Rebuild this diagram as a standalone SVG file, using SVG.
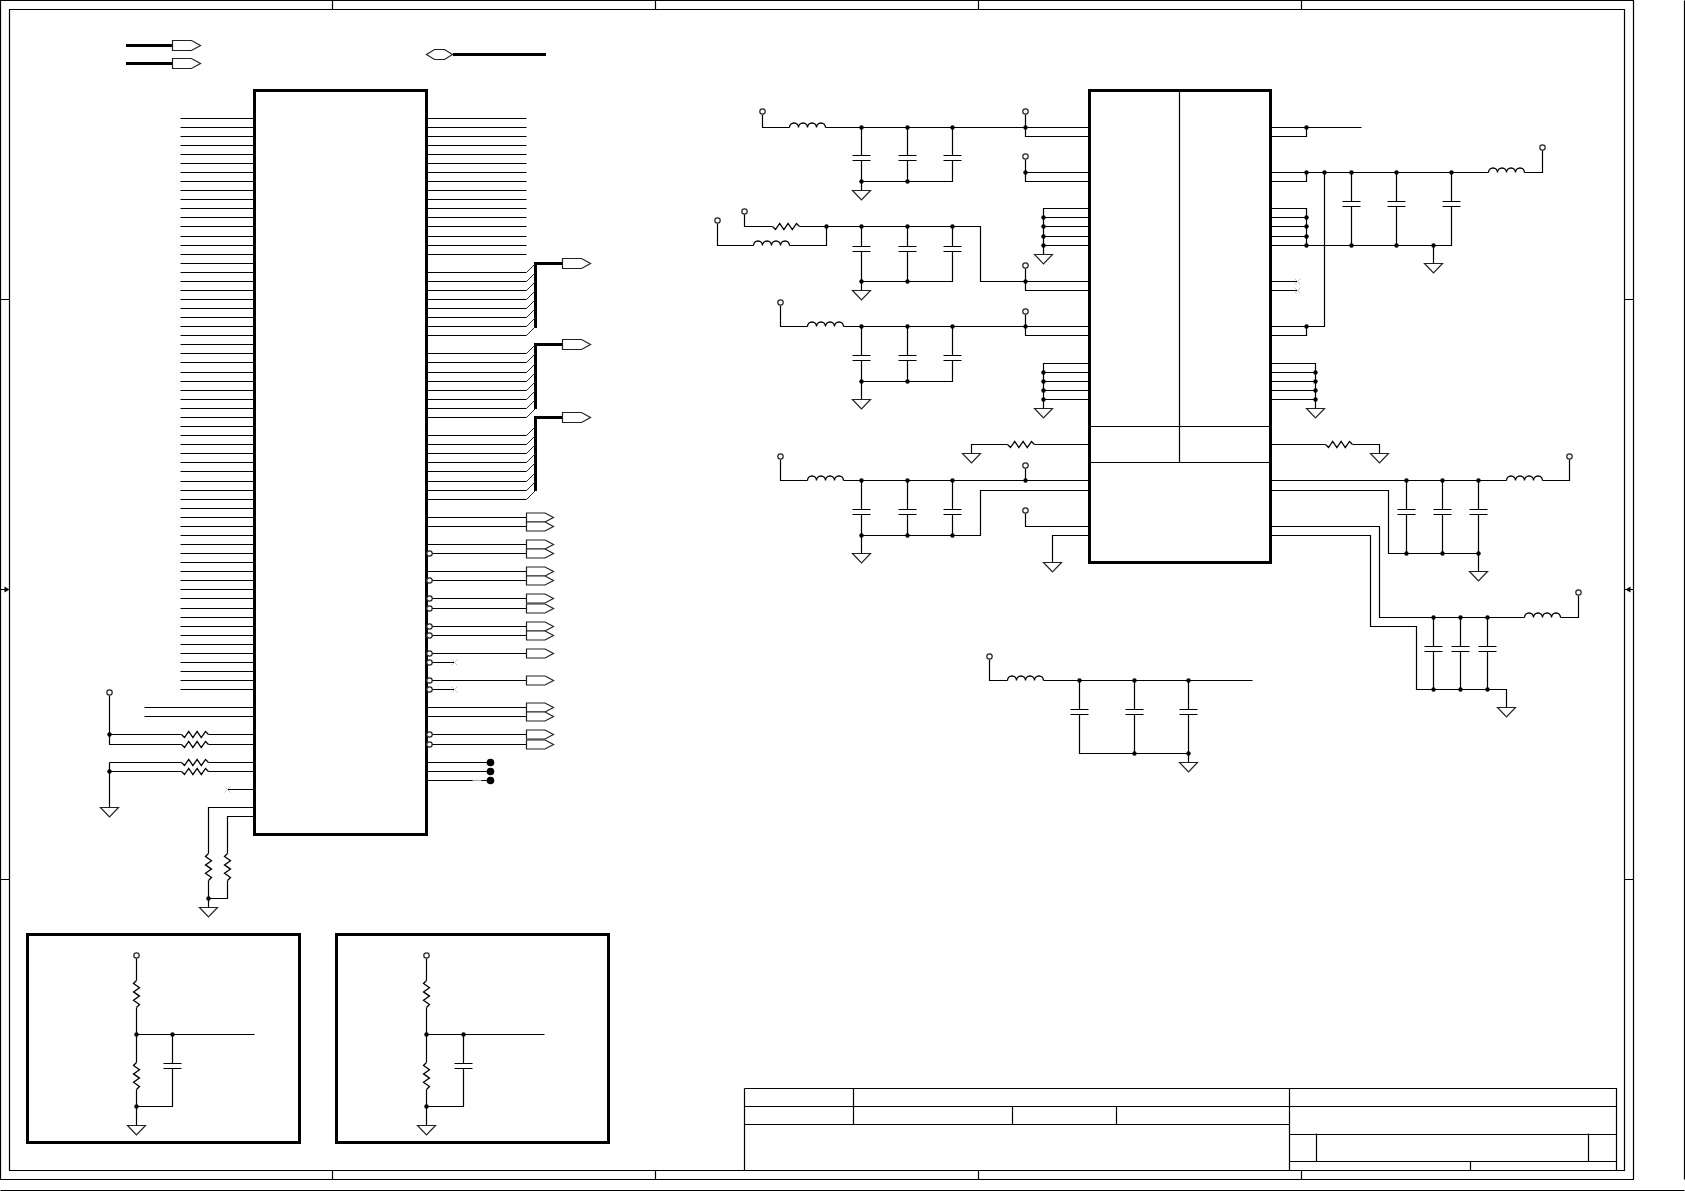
<svg xmlns="http://www.w3.org/2000/svg" width="1685" height="1191" viewBox="0 0 1685 1191">
<style>
.w{fill:none;stroke:#000;stroke-width:1.2}
.d{fill:none;stroke:#222;stroke-width:1}
.t{fill:none;stroke:#000;stroke-width:2.500;shape-rendering:crispEdges}
.b{fill:#fff;stroke:#000;stroke-width:3;shape-rendering:crispEdges}
.bo{fill:none;stroke:#000;stroke-width:3;shape-rendering:crispEdges}
.c{fill:none;stroke:#000;stroke-width:1.3}
.p{fill:#fff;stroke:#222;stroke-width:1.2}
.x{fill:none;stroke:#c8c8c8;stroke-width:1}
.dot{fill:#000}
.bd{fill:#000}
</style>
<defs>
<path id="ind" class="c" d="M0 0a4.500 4.500 0 0 1 9 0a4.500 4.500 0 0 1 9 0a4.500 4.500 0 0 1 9 0a4.500 4.500 0 0 1 9 0"/>
<path id="res" class="c" d="M0 0l3 3l4.200-6l4.200 6l4.200-6l4.200 6l4.200-6l3 3"/>
<path id="vres" class="c" d="M0 0l-3 3l6 4.200l-6 4.200l6 4.200l-6 4.200l6 4.200l-3 3"/>
<path id="cap" class="w" d="M-9 0H9M-9 5H9"/>
<polygon id="gnd" class="p" points="-9,0 9,0 0,9.500"/>
<circle id="term" class="p" r="2.700"/>
<circle id="dot" class="dot" r="2.200"/>
<circle id="bub" class="p" r="2.700"/>
<circle id="pad" class="bd" r="3.800"/>
<polygon id="port" class="p" points="0,-4.500 18.500,-4.500 27,0 18.500,4.500 0,4.500"/>
<polygon id="port5" class="p" points="0,-5 19,-5 28,0 19,5 0,5"/>
<polygon id="portl" class="p" points="0,0 8,-5 18,-5 26,0 18,5 8,5"/>
<path id="xm" class="x" d="M-3-3L3 3M-3 3L3-3"/>
</defs>
<rect width="1685" height="1191" fill="#fff"/>
<g transform="translate(.5 .5)">
<g id="frame">
<path class="w" d="M0 0H1633V1179H0ZM9 9H1624V1170H9Z"/>
<path class="w" d="M332 0V9M655 0V9M978 0V9M1301 0V9M332 1170V1179M655 1170V1179M978 1170V1179M1301 1170V1179M0 299H9M0 879H9M1624 299H1633M1624 879H1633M0 589H9M1624 589H1633M1684 0V1179M0 1190H1684"/>
<path class="bd" d="M4 586L9 589L4 592ZM1630 586L1625 589L1630 592Z"/>
</g>
<g id="connectors">
<path class="t" d="M125 45H172M125 63H172M452 54H545M562 263H535V327M562 344H535V408M562 417H535V490"/>
<path class="w" d="M180 118H254M180 127H254M180 136H254M180 145H254M180 154H254M180 163H254M180 172H254M180 181H254M180 190H254M180 199H254M180 208H254M180 217H254M180 226H254M180 236H254M180 245H254M180 254H254M180 263H254M180 272H254M180 281H254M180 290H254M180 299H254M180 308H254M180 317H254M180 326H254M180 335H254M180 344H254M180 353H254M180 362H254M180 372H254M180 381H254M180 390H254M180 399H254M180 408H254M180 417H254M180 426H254M180 435H254M180 444H254M180 453H254M180 462H254M180 471H254M180 481H254M180 490H254M180 499H254M180 508H254M180 517H254M180 526H254M180 535H254M180 544H254M180 553H254M180 562H254M180 571H254M180 580H254M180 589H254M180 598H254M180 608H254M180 617H254M180 626H254M180 635H254M180 644H254M180 653H254M180 662H254M180 671H254M180 680H254M180 689H254"/>
<path class="w" d="M144 707H254M144 716H254M109 695V744H181M208 744H254M109 734H181M208 734H254M109 762V807M109 762H181M208 762H254M109 771H181M208 771H254M227 789H254M254 807H208V853M208 880V907M254 816H227V853M227 880V898H208"/>
<path class="w" d="M426 118H526M426 127H526M426 136H526M426 145H526M426 154H526M426 163H526M426 172H526M426 181H526M426 190H526M426 199H526M426 208H526M426 217H526M426 226H526M426 236H526M426 245H526M426 254H526M426 272H526M426 281H526M426 290H526M426 299H526M426 308H526M426 317H526M426 326H526M426 335H526M426 353H526M426 362H526M426 372H526M426 381H526M426 390H526M426 399H526M426 408H526M426 417H526M426 435H526M426 444H526M426 453H526M426 462H526M426 471H526M426 481H526M426 490H526M426 499H526"/>
<path class="d" d="M526 272l9-9M526 281l9-9M526 290l9-9M526 299l9-9M526 308l9-9M526 317l9-9M526 326l9-9M526 335l9-9M526 353l9-9M526 362l9-9M526 372l9-9M526 381l9-9M526 390l9-9M526 399l9-9M526 408l9-9M526 417l9-9M526 435l9-9M526 444l9-9M526 453l9-9M526 462l9-9M526 471l9-9M526 481l9-9M526 490l9-9M526 499l9-9"/>
<path class="w" d="M426 517H526M426 526H526M426 544H526M426 553H526M426 571H526M426 580H526M426 598H526M426 608H526M426 626H526M426 635H526M426 653H526M426 662H454M426 680H526M426 689H454M426 707H526M426 716H526M426 734H526M426 744H526M426 762H490M426 771H490M426 780H490"/>
<path class="w" style="stroke:#aaa" d="M472 780H481"/>
<path class="w" d="M762 114V127H789M825 127H1089M1025 114V136H1089M861 127V155M861 160V181H952V160M952 155V127M907 127V155M907 160V181M861 181V190M1025 159V181H1089M1025 172H1089"/>
<path class="w" d="M1089 208H1043V254M1043 217H1089M1043 226H1089M1043 236H1089M1043 245H1089"/>
<path class="w" d="M717 223V245H753M789 245H826V226M744 214V226H772M799 226H980V281H1089M1025 268V290H1089M861 226V246M861 251V281H952V251M952 246V226M907 226V246M907 251V281M861 281V290"/>
<path class="w" d="M780 305V326H807M843 326H1089M1025 314V335H1089M861 326V355M861 360V381H952V360M952 355V326M907 326V355M907 360V381M861 381V399"/>
<path class="w" d="M1089 363H1043V408M1043 372H1089M1043 381H1089M1043 390H1089M1043 399H1089"/>
<path class="w" d="M1270 127H1361M1270 136H1306V127M1270 172H1488M1524 172H1542V150M1270 181H1306V172M1351 172V201M1351 206V245M1396 172V201M1396 206V245M1270 245H1451V206M1451 201V172M1433 245V263M1270 208H1306V245M1270 217H1306M1270 226H1306M1270 236H1306M1270 281H1297M1270 290H1297M1270 326H1324V172M1270 335H1306V326M1270 363H1315V408M1270 372H1315M1270 381H1315M1270 390H1315M1270 399H1315"/>
<path class="w" d="M1089 444H1034M1007 444H971V453M780 459V480H807M843 480H1089M1025 468V480M861 480V509M861 514V535H980V490H1089M907 480V509M907 514V535M952 480V509M952 514V535M861 535V553M1025 513V526H1089M1089 535H1052V562"/>
<path class="w" d="M1270 444H1325M1352 444H1379V453M1270 480H1506M1542 480H1569V459M1406 480V509M1406 514V553M1442 480V509M1442 514V553M1478 480V509M1478 514V571M1270 490H1388V553H1478"/>
<path class="w" d="M1270 526H1379V617H1524M1560 617H1578V595M1270 535H1370V626H1416V689H1506V707M1433 617V646M1433 651V689M1460 617V646M1460 651V689M1487 617V646M1487 651V689"/>
<path class="w" d="M989 659V680H1007M1043 680H1252M1079 680V709M1079 714V753H1188V714M1188 709V680M1134 680V709M1134 714V753M1188 753V762"/>
<path class="w" d="M136 958V980M136 1007V1062M136 1089V1125M136 1034H254M172 1034V1063M172 1068V1106H136M426 958V980M426 1007V1062M426 1089V1125M426 1034H544M463 1034V1063M463 1068V1106H426"/>
</g>
<g id="U1"><rect class="b" x="254" y="90" width="172" height="744"/></g>
<g id="U2"><rect class="b" x="1089" y="90" width="181" height="472"/><path class="w" d="M1179 90V462M1089 426H1270M1089 462H1270"/></g>
<g id="BOX1"><rect class="bo" x="27" y="934" width="272" height="208"/></g>
<g id="BOX2"><rect class="bo" x="336" y="934" width="272" height="208"/></g>
<g id="TITLE"><path class="w" d="M744 1088H1616V1170M744 1106H1616M744 1124H1289M744 1088V1170M853 1088V1124M1012 1106V1124M1116 1106V1124M1289 1088V1170M1289 1134H1616M1289 1161H1616M1316 1133V1161M1588 1133V1161M1470 1161V1170"/></g>
<g id="PORTS-TOP">
<use href="#port5" x="172" y="45"/><use href="#port5" x="172" y="63"/><use href="#portl" x="426" y="54"/>
<use href="#port5" x="562" y="263"/><use href="#port5" x="562" y="344"/><use href="#port5" x="562" y="417"/>
</g>
<g id="PORTS-OUT">
<use href="#port" x="526" y="517"/><use href="#port" x="526" y="526"/><use href="#port" x="526" y="544"/><use href="#port" x="526" y="553"/><use href="#port" x="526" y="571"/><use href="#port" x="526" y="580"/><use href="#port" x="526" y="598"/><use href="#port" x="526" y="608"/><use href="#port" x="526" y="626"/><use href="#port" x="526" y="635"/><use href="#port" x="526" y="653"/><use href="#port" x="526" y="680"/><use href="#port" x="526" y="707"/><use href="#port" x="526" y="716"/><use href="#port" x="526" y="734"/><use href="#port" x="526" y="744"/>
</g>
<g id="BUBBLES">
<use href="#bub" x="429" y="553"/><use href="#bub" x="429" y="580"/><use href="#bub" x="429" y="598"/><use href="#bub" x="429" y="608"/><use href="#bub" x="429" y="626"/><use href="#bub" x="429" y="635"/><use href="#bub" x="429" y="653"/><use href="#bub" x="429" y="662"/><use href="#bub" x="429" y="680"/><use href="#bub" x="429" y="689"/><use href="#bub" x="429" y="734"/><use href="#bub" x="429" y="744"/>
</g>
<g id="PADS"><use href="#pad" x="490" y="762"/><use href="#pad" x="490" y="771"/><use href="#pad" x="490" y="780"/></g>
<g id="NC">
<use href="#xm" x="454" y="662"/><use href="#xm" x="454" y="689"/><use href="#xm" x="227" y="789"/><use href="#xm" x="1297" y="281"/><use href="#xm" x="1297" y="290"/>
</g>
<g id="INDUCTORS">
<use href="#ind" x="789" y="127"/><use href="#ind" x="753" y="245"/><use href="#ind" x="807" y="326"/><use href="#ind" x="807" y="480"/><use href="#ind" x="1488" y="172"/><use href="#ind" x="1506" y="480"/><use href="#ind" x="1524" y="617"/><use href="#ind" x="1007" y="680"/>
</g>
<g id="RESISTORS">
<use href="#res" x="181" y="734"/><use href="#res" x="181" y="744"/><use href="#res" x="181" y="762"/><use href="#res" x="181" y="771"/><use href="#res" x="772" y="226"/><use href="#res" x="1007" y="444"/><use href="#res" x="1325" y="444"/>
<use href="#vres" x="208" y="853"/><use href="#vres" x="227" y="853"/><use href="#vres" x="136" y="980"/><use href="#vres" x="136" y="1062"/><use href="#vres" x="426" y="980"/><use href="#vres" x="426" y="1062"/>
</g>
<g id="CAPS">
<use href="#cap" x="861" y="155"/><use href="#cap" x="907" y="155"/><use href="#cap" x="952" y="155"/>
<use href="#cap" x="861" y="246"/><use href="#cap" x="907" y="246"/><use href="#cap" x="952" y="246"/>
<use href="#cap" x="861" y="355"/><use href="#cap" x="907" y="355"/><use href="#cap" x="952" y="355"/>
<use href="#cap" x="861" y="509"/><use href="#cap" x="907" y="509"/><use href="#cap" x="952" y="509"/>
<use href="#cap" x="1351" y="201"/><use href="#cap" x="1396" y="201"/><use href="#cap" x="1451" y="201"/>
<use href="#cap" x="1406" y="509"/><use href="#cap" x="1442" y="509"/><use href="#cap" x="1478" y="509"/>
<use href="#cap" x="1433" y="646"/><use href="#cap" x="1460" y="646"/><use href="#cap" x="1487" y="646"/>
<use href="#cap" x="1079" y="709"/><use href="#cap" x="1134" y="709"/><use href="#cap" x="1188" y="709"/>
<use href="#cap" x="172" y="1063"/><use href="#cap" x="463" y="1063"/>
</g>
<g id="GROUNDS">
<use href="#gnd" x="109" y="807"/><use href="#gnd" x="208" y="907"/><use href="#gnd" x="861" y="190"/><use href="#gnd" x="1043" y="254"/><use href="#gnd" x="861" y="290"/><use href="#gnd" x="861" y="399"/><use href="#gnd" x="1043" y="408"/><use href="#gnd" x="1433" y="263"/><use href="#gnd" x="1315" y="408"/><use href="#gnd" x="971" y="453"/><use href="#gnd" x="1379" y="453"/><use href="#gnd" x="861" y="553"/><use href="#gnd" x="1052" y="562"/><use href="#gnd" x="1478" y="571"/><use href="#gnd" x="1506" y="707"/><use href="#gnd" x="1188" y="762"/><use href="#gnd" x="136" y="1125"/><use href="#gnd" x="426" y="1125"/>
</g>
<g id="TERMINALS">
<use href="#term" x="109" y="692"/><use href="#term" x="762" y="111"/><use href="#term" x="1025" y="111"/><use href="#term" x="1025" y="156"/><use href="#term" x="717" y="220"/><use href="#term" x="744" y="211"/><use href="#term" x="1025" y="265"/><use href="#term" x="780" y="302"/><use href="#term" x="1025" y="311"/><use href="#term" x="1542" y="147"/><use href="#term" x="780" y="456"/><use href="#term" x="1025" y="465"/><use href="#term" x="1025" y="510"/><use href="#term" x="1569" y="456"/><use href="#term" x="1578" y="592"/><use href="#term" x="989" y="656"/><use href="#term" x="136" y="955"/><use href="#term" x="426" y="955"/>
</g>
<g id="JUNCTIONS">
<use href="#dot" x="109" y="734"/><use href="#dot" x="109" y="771"/><use href="#dot" x="208" y="898"/>
<use href="#dot" x="861" y="127"/><use href="#dot" x="907" y="127"/><use href="#dot" x="952" y="127"/><use href="#dot" x="1025" y="127"/><use href="#dot" x="861" y="181"/><use href="#dot" x="907" y="181"/><use href="#dot" x="1025" y="172"/>
<use href="#dot" x="1043" y="217"/><use href="#dot" x="1043" y="226"/><use href="#dot" x="1043" y="236"/><use href="#dot" x="1043" y="245"/>
<use href="#dot" x="826" y="226"/><use href="#dot" x="861" y="226"/><use href="#dot" x="907" y="226"/><use href="#dot" x="952" y="226"/><use href="#dot" x="861" y="281"/><use href="#dot" x="907" y="281"/><use href="#dot" x="1025" y="281"/>
<use href="#dot" x="861" y="326"/><use href="#dot" x="907" y="326"/><use href="#dot" x="952" y="326"/><use href="#dot" x="1025" y="326"/><use href="#dot" x="861" y="381"/><use href="#dot" x="907" y="381"/>
<use href="#dot" x="1043" y="372"/><use href="#dot" x="1043" y="381"/><use href="#dot" x="1043" y="390"/><use href="#dot" x="1043" y="399"/>
<use href="#dot" x="1306" y="127"/><use href="#dot" x="1306" y="172"/><use href="#dot" x="1324" y="172"/><use href="#dot" x="1351" y="172"/><use href="#dot" x="1396" y="172"/><use href="#dot" x="1451" y="172"/>
<use href="#dot" x="1306" y="217"/><use href="#dot" x="1306" y="226"/><use href="#dot" x="1306" y="236"/><use href="#dot" x="1306" y="245"/><use href="#dot" x="1351" y="245"/><use href="#dot" x="1396" y="245"/><use href="#dot" x="1433" y="245"/><use href="#dot" x="1306" y="326"/>
<use href="#dot" x="1315" y="372"/><use href="#dot" x="1315" y="381"/><use href="#dot" x="1315" y="390"/><use href="#dot" x="1315" y="399"/>
<use href="#dot" x="861" y="480"/><use href="#dot" x="907" y="480"/><use href="#dot" x="952" y="480"/><use href="#dot" x="1025" y="480"/><use href="#dot" x="861" y="535"/><use href="#dot" x="907" y="535"/><use href="#dot" x="952" y="535"/>
<use href="#dot" x="1406" y="480"/><use href="#dot" x="1442" y="480"/><use href="#dot" x="1478" y="480"/><use href="#dot" x="1406" y="553"/><use href="#dot" x="1442" y="553"/><use href="#dot" x="1478" y="553"/>
<use href="#dot" x="1433" y="617"/><use href="#dot" x="1460" y="617"/><use href="#dot" x="1487" y="617"/><use href="#dot" x="1433" y="689"/><use href="#dot" x="1460" y="689"/><use href="#dot" x="1487" y="689"/>
<use href="#dot" x="1079" y="680"/><use href="#dot" x="1134" y="680"/><use href="#dot" x="1188" y="680"/><use href="#dot" x="1134" y="753"/><use href="#dot" x="1188" y="753"/>
<use href="#dot" x="136" y="1034"/><use href="#dot" x="172" y="1034"/><use href="#dot" x="136" y="1106"/><use href="#dot" x="426" y="1034"/><use href="#dot" x="463" y="1034"/><use href="#dot" x="426" y="1106"/>
</g>
</g>
</svg>
